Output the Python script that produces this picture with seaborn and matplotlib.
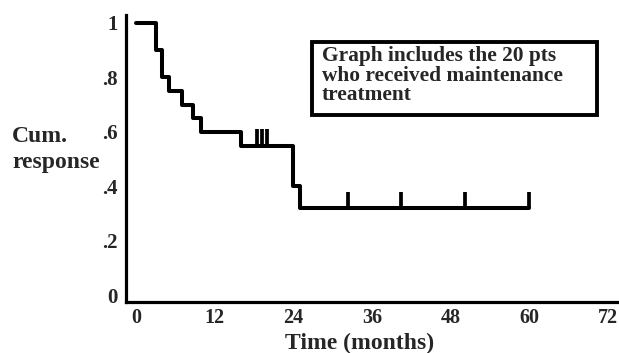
import matplotlib
matplotlib.use("Agg")
import matplotlib.pyplot as plt
import seaborn as sns
import pandas as pd
from matplotlib.patches import Rectangle

# Data
times = [0, 3, 4, 5, 7, 8.7, 10, 16, 24, 25, 60]
survival = [1.0, 0.9, 0.8, 0.75, 0.70, 0.65, 0.60, 0.55, 0.40, 0.32, 0.32]
censor_times = [18.5, 19.3, 20.0, 32.3, 40.5, 50.2, 60.0]
censor_levels = [0.55, 0.55, 0.55, 0.32, 0.32, 0.32, 0.32]
x_ticks = [0, 12, 24, 36, 48, 60, 72]
x_tick_labels = ["0", "12", "24", "36", "48", "60", "72"]
y_ticks = [0, 0.2, 0.4, 0.6, 0.8, 1.0]
y_tick_labels = ["0", ".2", ".4", ".6", ".8", "1"]
note_text = "Graph includes the 20 pts\nwho received maintenance\ntreatment"

sns.set_style("white")
plt.rcParams["font.family"] = ["Liberation Serif", "DejaVu Serif"]
plt.rcParams["font.weight"] = "bold"

W, H = 619, 353
fig = plt.figure(figsize=(W / 100, H / 100), dpi=100)
ax = fig.add_axes([126 / W, 1 - 302 / H, (W - 126) / W, (302 - 15) / H])

df = pd.DataFrame({"t": times, "s": survival})
sns.lineplot(data=df, x="t", y="s", ax=ax, color="black", linewidth=2.9,
             drawstyle="steps-post", estimator=None, sort=False)
ax.vlines(censor_times, censor_levels, [c + 0.06 for c in censor_levels],
          color="black", linewidth=2.7)

ax.set_xlim(-1.5, 73.7)
ax.set_ylim(-0.024, 1.029)
ax.set_xticks(x_ticks)
ax.set_xticklabels(x_tick_labels, fontsize=14.5, fontweight="bold")
ax.set_yticks(y_ticks)
ax.set_yticklabels(y_tick_labels, fontsize=15, fontweight="bold")
ax.tick_params(axis="x", length=0, pad=4)
ax.tick_params(axis="y", length=0, pad=6)
ax.set_xlabel("")
ax.set_ylabel("")
for s in ["top", "right"]:
    ax.spines[s].set_visible(False)
for s in ["left", "bottom"]:
    ax.spines[s].set_linewidth(2.3)
    ax.spines[s].set_color("black")

fig.text(12 / W, 1 - 149.5 / H, "Cum.\nresponse", ha="left", va="center",
         fontsize=17, fontweight="bold", linespacing=1.3)
fig.text(360 / W, 1 - 343 / H, "Time (months)", ha="center", va="center",
         fontsize=17, fontweight="bold")

fig.patches.append(Rectangle((312 / W, 1 - 115 / H), 285 / W, 73 / H,
                             transform=fig.transFigure, fill=False,
                             edgecolor="black", linewidth=2.8))
fig.text(322 / W, 1 - 46 / H, note_text, ha="left", va="top",
         fontsize=15.4, fontweight="bold", linespacing=0.98)

fig.savefig("out.png", dpi=100)
